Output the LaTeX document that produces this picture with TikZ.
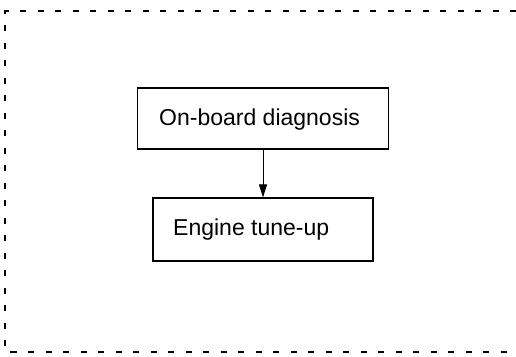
\documentclass[tikz,border=0pt]{standalone}
\usepackage{fontspec}
\setmainfont{Liberation Sans}
\usetikzlibrary{arrows.meta}
\tikzset{
  framedash/.style={line width=1.3pt, dash pattern=on 6pt off 11.5pt},
  boxnode/.style={draw, line width=1.2pt, rectangle, inner sep=0pt},
  lbl/.style={anchor=base west, inner sep=0pt, font=\fontsize{23}{26}\selectfont},
  conn/.style={line width=1pt, -{Triangle[length=13pt,width=8pt]}}
}
\begin{document}
\begin{tikzpicture}[x=1pt,y=-1pt]
\useasboundingbox (0,0) rectangle (516,356);
\coordinate (ftr) at (516,11);
\coordinate (ftl) at (5,11);
\coordinate (fbl) at (5,352);
\coordinate (fbr) at (516,352);
\draw[framedash] (ftr) -- (ftl) -- (fbl) -- (fbr);
\node[boxnode, minimum width=251pt, minimum height=61pt] (diag) at (263,118.5) {};
\node[boxnode, minimum width=220pt, minimum height=63pt] (tune) at (263,229.5) {};
\node[lbl] (diagt) at (159,125) {On-board diagnosis};
\node[lbl] (tunet) at (173,235) {Engine tune-up};
\draw[conn] (diag.south) -- (tune.north);
\end{tikzpicture}
\end{document}
